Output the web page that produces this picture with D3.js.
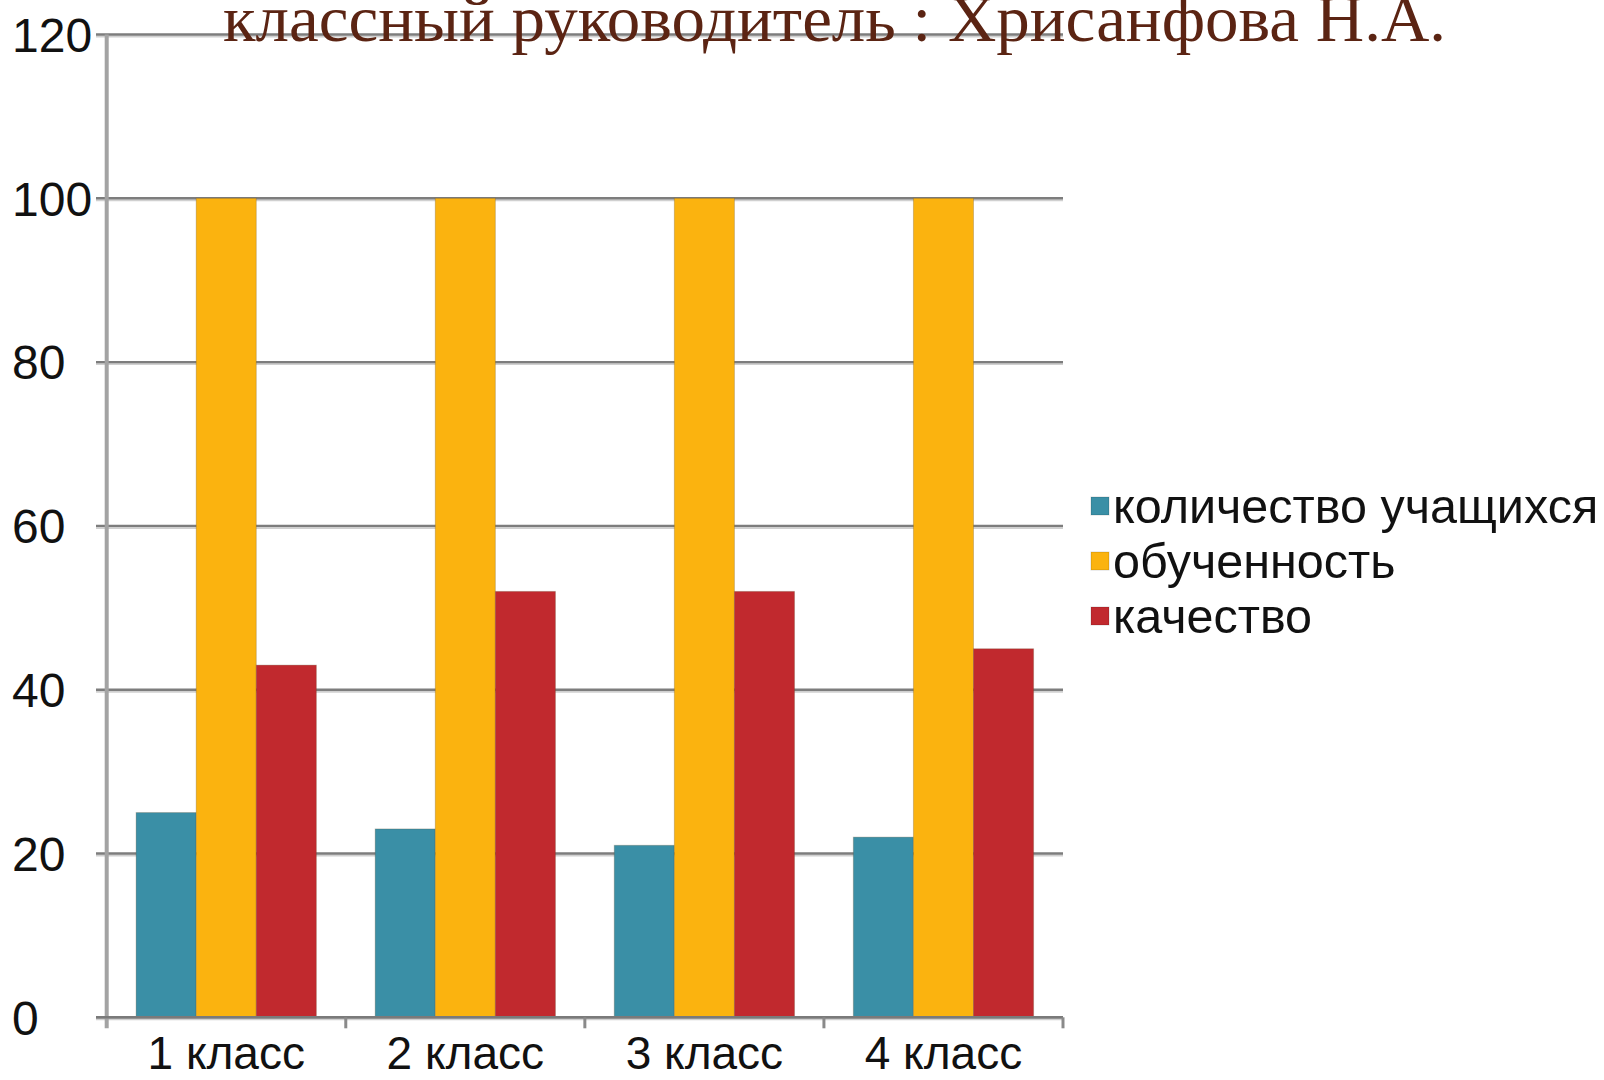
<!DOCTYPE html>
<html><head><meta charset="utf-8">
<script src="https://cdn.jsdelivr.net/npm/d3@7"></script>
<style>html,body{margin:0;padding:0;background:#fff;overflow:hidden}</style>
</head><body>
<svg id="c" width="1604" height="1080"></svg>
<script>
const title = "классный руководитель : Хрисанфова Н.А.";
const categories = ["1 класс", "2 класс", "3 класс", "4 класс"];
const seriesNames = ["количество учащихся", "обученность", "качество"];
const students = [25, 23, 21, 22];
const learning = [100, 100, 100, 100];
const quality = [43, 52, 52, 45];
const yTicks = [0, 20, 40, 60, 80, 100, 120];
const colors = ["#3a8fa6", "#fbb30f", "#c1292e"];

const seriesValues = [students, learning, quality];
const svg = d3.select("#c");
const L = 106.7, R = 1063, T = 34.5, B = 1017.3;

const y = d3.scaleLinear().domain([0, 120]).range([B, T]);
const x0 = d3.scaleBand().domain(categories).range([L, R]).padding(0);
const bw = x0.bandwidth();
const x1 = d3.scaleBand().domain(seriesNames).range([bw * 0.123, bw * 0.877]).padding(0);

// gridlines
const grid = svg.append("g");
grid.selectAll("line.s").data(yTicks).join("line")
  .attr("x1", 96).attr("x2", R).attr("y1", d => y(d) + 2).attr("y2", d => y(d) + 2)
  .attr("stroke", "#d0d0d0").attr("stroke-width", 2);
grid.selectAll("line.g").data(yTicks).join("line")
  .attr("x1", 96).attr("x2", R).attr("y1", d => y(d)).attr("y2", d => y(d))
  .attr("stroke", "#7d7d7d").attr("stroke-width", 2.4);

// y axis line
svg.append("line").attr("x1", L).attr("x2", L).attr("y1", T).attr("y2", B + 11)
  .attr("stroke", "#a3a3a3").attr("stroke-width", 4);

// bars
const groups = svg.append("g").selectAll("g").data(categories).join("g")
  .attr("transform", c => `translate(${x0(c)},0)`);
groups.selectAll("rect").data((c, i) => seriesNames.map((s, k) => ({s, k, v: seriesValues[k][i]})))
  .join("rect")
  .attr("x", d => x1(d.s)).attr("width", x1.bandwidth())
  .attr("y", d => y(d.v)).attr("height", d => y(0) - y(d.v))
  .attr("fill", d => colors[d.k])
  .attr("stroke", "rgba(90,70,40,0.25)").attr("stroke-width", 1);

// x axis
svg.append("line").attr("x1", 96).attr("x2", R).attr("y1", B).attr("y2", B)
  .attr("stroke", "#7a7a7a").attr("stroke-width", 2.5);
const bounds = categories.map(c => x0(c)).concat([R]);
svg.append("g").selectAll("line").data(bounds.slice(1)).join("line")
  .attr("x1", d => d).attr("x2", d => d).attr("y1", B).attr("y2", B + 11)
  .attr("stroke", "#8a8a8a").attr("stroke-width", 3);

// y labels (left aligned)
svg.append("g").selectAll("text").data(yTicks).join("text")
  .attr("x", 12).attr("y", d => y(d)).attr("dy", "0.36em")
  .attr("font-family", "Liberation Sans, Arial, sans-serif").attr("font-size", 48)
  .attr("fill", "#111").text(d => d);

// x labels
svg.append("g").selectAll("text").data(categories).join("text")
  .attr("x", c => x0(c) + bw / 2).attr("y", 1069).attr("text-anchor", "middle")
  .attr("font-family", "Liberation Sans, Arial, sans-serif").attr("font-size", 46)
  .attr("fill", "#111").text(c => c);

// legend
const leg = svg.append("g").selectAll("g").data(seriesNames).join("g")
  .attr("transform", (d, i) => `translate(1091, ${506 + i * 55})`);
leg.append("rect").attr("x", 0).attr("y", -9).attr("width", 18).attr("height", 18)
  .attr("fill", (d, i) => colors[i]).attr("stroke", "rgba(0,0,0,0.15)");
leg.append("text").attr("x", 22).attr("y", 0).attr("dy", "0.36em")
  .attr("font-family", "Liberation Sans, Arial, sans-serif").attr("font-size", 48.5)
  .attr("fill", "#111").text(d => d);

// title
svg.append("text").attr("x", 223).attr("y", 41)
  .attr("font-family", "Liberation Serif, Times New Roman, serif").attr("font-size", 66)
  .attr("fill", "#5b2413").attr("textLength", 1223).attr("lengthAdjust", "spacingAndGlyphs")
  .text(title);
</script>
</body></html>
